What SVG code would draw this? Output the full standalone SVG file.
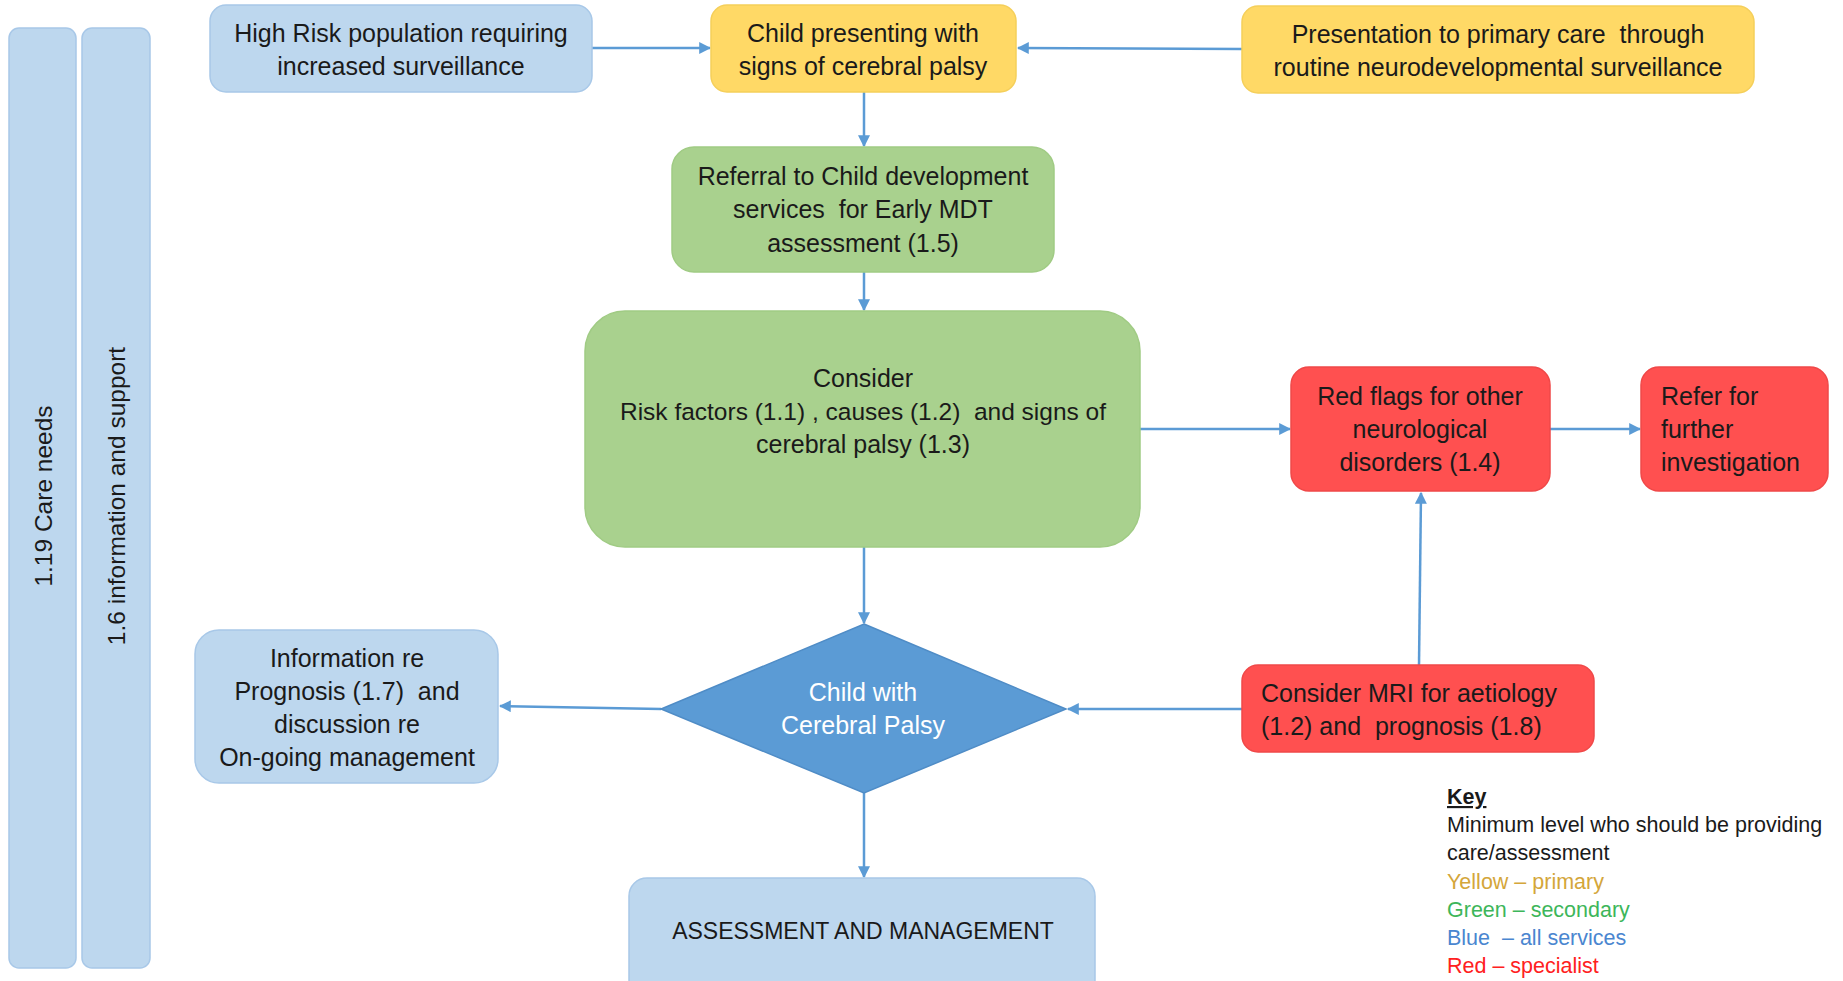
<svg xmlns="http://www.w3.org/2000/svg" width="1843" height="981" viewBox="0 0 1843 981">
<style>
text{font-family:"Liberation Sans",Arial,sans-serif;font-size:25px;fill:#1a1a1a;white-space:pre}
.c{text-anchor:middle}
.blue{fill:#BDD7EE;stroke:#A8C8E8;stroke-width:1.5}
.yel{fill:#FFD966;stroke:#F5CF5A;stroke-width:1.5}
.grn{fill:#A9D18E;stroke:#A0CB84;stroke-width:1.5}
.red{fill:#FF5050;stroke:#F04848;stroke-width:1.5}
.dia{fill:#5B9BD5;stroke:#4F8CC6;stroke-width:1.5}
.w{fill:#ffffff}
.key{font-size:21.5px}
.conn{stroke:#5B9BD5;stroke-width:2.5;fill:none;marker-end:url(#ah)}
</style>
<defs>
<marker id="ah" viewBox="0 0 10 10" refX="9" refY="5" markerWidth="4.8" markerHeight="4.8" orient="auto" markerUnits="strokeWidth">
<path d="M0,0 L10,5 L0,10 z" fill="#5B9BD5"/>
</marker>
</defs>
<rect width="1843" height="981" fill="#ffffff"/>

<g id="bar-care-needs">
<rect class="blue" x="9" y="28" width="67" height="940" rx="10"/>
<text class="c" transform="translate(52,496) rotate(-90)" style="font-size:24.5px">1.19 Care needs</text>
</g>
<g id="bar-information">
<rect class="blue" x="82" y="28" width="68" height="940" rx="10"/>
<text class="c" transform="translate(125,496) rotate(-90)" style="font-size:24.5px">1.6 information and support</text>
</g>

<g id="connectors">
<line class="conn" x1="592" y1="48" x2="710" y2="48"/>
<line class="conn" x1="1242" y1="49" x2="1018" y2="48"/>
<line class="conn" x1="864" y1="92" x2="864" y2="146"/>
<line class="conn" x1="864" y1="272" x2="864" y2="310"/>
<line class="conn" x1="1140" y1="429" x2="1290" y2="429"/>
<line class="conn" x1="1550" y1="429" x2="1640" y2="429"/>
<line class="conn" x1="864" y1="547" x2="864" y2="623"/>
<line class="conn" x1="1419" y1="665" x2="1421" y2="493"/>
<line class="conn" x1="1242" y1="709" x2="1068" y2="709"/>
<line class="conn" x1="661" y1="709" x2="500" y2="706"/>
<line class="conn" x1="864" y1="793" x2="864" y2="877"/>
</g>

<g id="high-risk">
<rect class="blue" x="210" y="5" width="382" height="87" rx="16"/>
<text class="c" x="401" y="42">High Risk population requiring</text>
<text class="c" x="401" y="75">increased surveillance</text>
</g>

<g id="child-presenting">
<rect class="yel" x="711" y="5" width="305" height="87" rx="16"/>
<text class="c" x="863" y="42">Child presenting with</text>
<text class="c" x="863" y="75">signs of cerebral palsy</text>
</g>

<g id="primary-care">
<rect class="yel" x="1242" y="6" width="512" height="87" rx="16"/>
<text class="c" x="1498" y="43">Presentation to primary care  through</text>
<text class="c" x="1498" y="76">routine neurodevelopmental surveillance</text>
</g>

<g id="referral">
<rect class="grn" x="672" y="147" width="382" height="125" rx="22"/>
<text class="c" x="863" y="185">Referral to Child development</text>
<text class="c" x="863" y="218">services  for Early MDT</text>
<text class="c" x="863" y="252">assessment (1.5)</text>
</g>

<g id="consider">
<rect class="grn" x="585" y="311" width="555" height="236" rx="40"/>
<text class="c" x="863" y="387">Consider</text>
<text class="c" x="863" y="420" style="font-size:24.5px">Risk factors (1.1) , causes (1.2)  and signs of</text>
<text class="c" x="863" y="453">cerebral palsy (1.3)</text>
</g>

<g id="red-flags">
<rect class="red" x="1291" y="367" width="259" height="124" rx="18"/>
<text class="c" x="1420" y="405">Red flags for other</text>
<text class="c" x="1420" y="438">neurological</text>
<text class="c" x="1420" y="471">disorders (1.4)</text>
</g>

<g id="refer-further">
<rect class="red" x="1641" y="367" width="187" height="124" rx="18"/>
<text x="1661" y="405">Refer for</text>
<text x="1661" y="438">further</text>
<text x="1661" y="471">investigation</text>
</g>

<g id="child-with-cp">
<polygon class="dia" points="864,624 1066,709 864,793 661,709"/>
<text class="c w" x="863" y="701">Child with</text>
<text class="c w" x="863" y="734">Cerebral Palsy</text>
</g>

<g id="information">
<rect class="blue" x="195" y="630" width="303" height="153" rx="24"/>
<text class="c" x="347" y="667">Information re</text>
<text class="c" x="347" y="700">Prognosis (1.7)  and</text>
<text class="c" x="347" y="733">discussion re</text>
<text class="c" x="347" y="766">On-going management</text>
</g>

<g id="mri">
<rect class="red" x="1242" y="665" width="352" height="87" rx="16"/>
<text x="1261" y="702">Consider MRI for aetiology</text>
<text x="1261" y="735">(1.2) and  prognosis (1.8)</text>
</g>

<g id="assessment">
<rect class="blue" x="629" y="878" width="466" height="120" rx="18"/>
<text class="c" x="863" y="939" style="font-size:23px">ASSESSMENT AND MANAGEMENT</text>
</g>

<g id="key">
<text class="key" x="1447" y="804" style="font-weight:bold;text-decoration:underline">Key</text>
<text class="key" x="1447" y="832">Minimum level who should be providing</text>
<text class="key" x="1447" y="860">care/assessment</text>
<text class="key" x="1447" y="889" style="fill:#D4A63A">Yellow – primary</text>
<text class="key" x="1447" y="917" style="fill:#3DB65A">Green – secondary</text>
<text class="key" x="1447" y="945" style="fill:#4A86D0">Blue  – all services</text>
<text class="key" x="1447" y="973" style="fill:#FF2020">Red – specialist</text>
</g>
</svg>
